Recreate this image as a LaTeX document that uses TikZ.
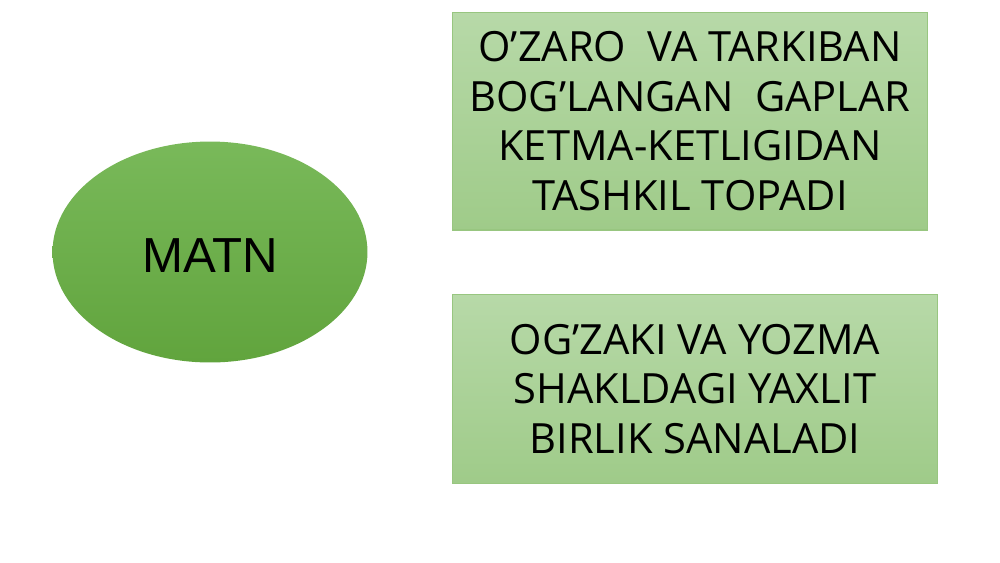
\documentclass[tikz,border=0pt]{standalone}
\usepackage{fontspec}
\setmainfont{Open Sans}
\newfontfamily\matnfont{Liberation Sans}
\usetikzlibrary{shapes.geometric}

\definecolor{ellTop}{HTML}{79B95A}
\definecolor{ellBot}{HTML}{61A43D}
\definecolor{boxTop}{HTML}{B7D9A8}
\definecolor{boxBot}{HTML}{9FCB89}
\definecolor{boxLine}{HTML}{98C680}

\begin{document}
\begin{tikzpicture}[x=0.02cm,y=-0.02cm,
    oval/.style={ellipse, inner sep=0pt, top color=ellTop, bottom color=ellBot,
      draw=none, font=\matnfont\fontsize{28}{32}\selectfont},
    infobox/.style={rectangle, inner sep=0pt, top color=boxTop, bottom color=boxBot,
      draw=boxLine, line width=0.6pt, align=center,
      font=\fontsize{23.7}{28.2}\selectfont}]
  \useasboundingbox (0,0) rectangle (1000,562);

  % Ellipse
  \node[oval, minimum width=6.3cm, minimum height=4.42cm] (matn) at (210,252) {};
  \node[font=\matnfont\fontsize{28}{32}\selectfont] (matnText) at (210,256) {MATN};

  % Boxes
  \node[infobox, minimum width=9.52cm, minimum height=4.36cm] (tarkib) at (690,121)
    {O’ZARO\ \ VA TARKIBAN\\BOG’LANGAN\ \ GAPLAR\\KETMA-KETLIGIDAN\\TASHKIL TOPADI};
  \node[infobox, minimum width=9.72cm, minimum height=3.78cm] (shakl) at (695,389)
    {OG’ZAKI VA YOZMA\\SHAKLDAGI YAXLIT\\BIRLIK SANALADI};
\end{tikzpicture}
\end{document}
